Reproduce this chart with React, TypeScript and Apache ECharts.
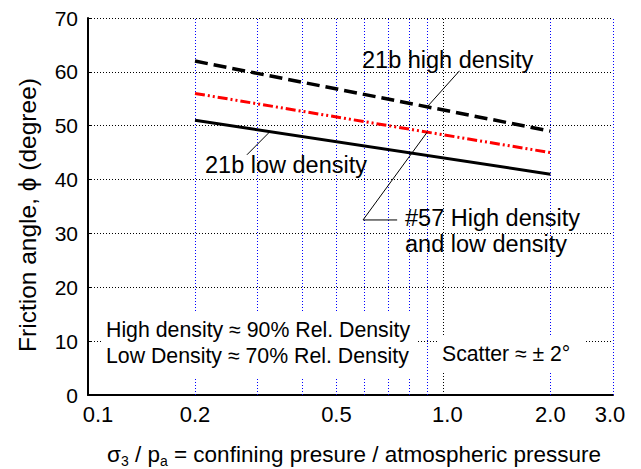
import React, { useEffect, useRef } from 'react';
import * as echarts from 'echarts';

// ---- data ----
const xEnds = [0.2, 2.0];
const high21b = [62, 49];
const mixed57 = [56, 45];
const low21b = [51, 41];

const xTickValues = [0.1, 0.2, 0.5, 1.0, 2.0, 3.0];
const xTickLabels = ['0.1', '0.2', '0.5', '1.0', '2.0', '3.0'];
const blueGridX = [0.2, 0.3, 0.4, 0.5, 0.6, 0.7, 0.8, 0.9, 2.0, 3.0];
const blackGridX = [1.0];

// leader lines (data coordinates)
const leaderHighX = [1.11, 0.9];
const leaderHighY = [60.2, 53.5];
const leaderLowX = [0.28, 0.325];
const leaderLowY = [44.6, 48.9];
const leader57X = [0.741, 0.594, 0.9];
const leader57Y = [32.5, 32.5, 48.8];

const FONT = '"Liberation Sans", Arial, Helvetica, sans-serif';

function pairs(xs: number[], ys: number[]) {
  return xs.map((x, i) => [x, ys[i]]);
}

function txt(text: string, x: number, y: number, fontSize: number, align = 'left', extra: any = {}) {
  return {
    type: 'text',
    x,
    y,
    z: 120,
    silent: true,
    ...extra,
    style: {
      text,
      fontSize,
      fontFamily: FONT,
      fill: '#000',
      align,
      verticalAlign: 'middle',
      textAlign: align,
      textVerticalAlign: 'middle',
    },
  };
}

export default function App() {
  const ref = useRef<HTMLDivElement>(null);

  useEffect(() => {
    if (!ref.current) return;
    const chart = echarts.init(ref.current, undefined, { renderer: 'svg' });

    const leaderStyle = { color: '#000', width: 1 };

    chart.setOption({
      animation: false,
      backgroundColor: '#fff',
      grid: { left: 88, right: 28, top: 18, bottom: 74, containLabel: false },
      xAxis: {
        type: 'log',
        logBase: 10,
        min: 0.1,
        max: 3.0,
        axisLine: { show: true, onZero: false, lineStyle: { color: '#000', width: 2 } },
        axisTick: { show: false },
        axisLabel: { show: false },
        splitLine: { show: false },
        minorSplitLine: { show: false },
      },
      yAxis: {
        type: 'value',
        min: 0,
        max: 70,
        interval: 10,
        axisLine: { show: true, lineStyle: { color: '#000', width: 2 } },
        axisTick: { show: true, inside: true, length: 3, lineStyle: { color: '#000', width: 1 } },
        axisLabel: { color: '#000', fontSize: 21, fontFamily: FONT, margin: 10 },
        splitLine: { show: true, lineStyle: { color: '#000', width: 1, type: [1, 2] } },
      },
      series: [
        {
          type: 'line',
          name: 'grid',
          data: [],
          silent: true,
          z: 1,
          markLine: {
            silent: true,
            symbol: ['none', 'none'],
            label: { show: false },
            animation: false,
            data: [
              ...blueGridX.map((v) => ({ xAxis: v, lineStyle: { color: '#0000ff', width: 1, type: [1, 2] } })),
              ...blackGridX.map((v) => ({ xAxis: v, lineStyle: { color: '#000', width: 1, type: [1, 2] } })),
            ],
          },
        },
        {
          type: 'line',
          name: '21b high density',
          data: pairs(xEnds, high21b),
          showSymbol: false,
          symbol: 'none',
          z: 5,
          lineStyle: { color: '#000', width: 3.5, type: [13, 6] },
        },
        {
          type: 'line',
          name: '#57',
          data: pairs(xEnds, mixed57),
          showSymbol: false,
          symbol: 'none',
          z: 5,
          lineStyle: { color: '#ff0000', width: 3, type: [10, 3, 2, 3, 2, 3] },
        },
        {
          type: 'line',
          name: '21b low density',
          data: pairs(xEnds, low21b),
          showSymbol: false,
          symbol: 'none',
          z: 5,
          lineStyle: { color: '#000', width: 3 },
        },
        {
          type: 'line',
          name: 'leader high',
          data: pairs(leaderHighX, leaderHighY),
          symbol: 'none',
          z: 6,
          lineStyle: leaderStyle,
        },
        {
          type: 'line',
          name: 'leader low',
          data: pairs(leaderLowX, leaderLowY),
          symbol: 'none',
          z: 6,
          lineStyle: leaderStyle,
        },
        {
          type: 'line',
          name: 'leader 57',
          data: pairs(leader57X, leader57Y),
          symbol: 'none',
          z: 6,
          lineStyle: leaderStyle,
        },
      ],
    });

    const tickOffsets: Record<string, number> = { '0.1': 10, '3.0': -3, '1.0': 4 };
    const tickGraphics = xTickValues.map((v, i) => {
      const px = chart.convertToPixel({ xAxisIndex: 0 }, v) as number;
      const lab = xTickLabels[i];
      return txt(lab, px + (tickOffsets[lab] || 0), 414, 22, 'center');
    });

    chart.setOption({
      graphic: [
        // white boxes behind the notes
        { type: 'rect', z: 100, silent: true, shape: { x: 103, y: 312, width: 314, height: 67 }, style: { fill: '#fff' } },
        { type: 'rect', z: 100, silent: true, shape: { x: 439, y: 337, width: 145, height: 36 }, style: { fill: '#fff' } },
        ...tickGraphics,
        txt('Friction angle, \u03d5 (degree)', 27, 215, 24.5, 'center', { rotation: Math.PI / 2 }),
        {
          type: 'text',
          x: 107,
          y: 454,
          z: 120,
          silent: true,
          style: {
            text: '{m|\u03c3}{s|3}{m| / p}{s|a}{m| = confining presure / atmospheric pressure}',
            fontFamily: FONT,
            fill: '#000',
            align: 'left',
            verticalAlign: 'middle',
            textAlign: 'left',
            textVerticalAlign: 'middle',
            rich: {
              m: { fontSize: 22.5, fontFamily: FONT, fill: '#000', color: '#000', lineHeight: 26 },
              s: { fontSize: 14, fontFamily: FONT, fill: '#000', color: '#000', lineHeight: 28, verticalAlign: 'bottom' },
            },
          },
        },
        txt('21b high density', 362, 60, 23.5),
        txt('21b low density', 205, 165, 23.5),
        txt('#57 High density', 405, 218, 23.5),
        txt('and low density', 405, 244, 23.5),
        txt('High density \u2248 90% Rel. Density', 106, 330, 21.3),
        txt('Low Density \u2248 70% Rel. Density', 106, 356, 21.3),
        txt('Scatter \u2248 \u00b1 2\u00b0', 442, 353, 21.2),
      ],
    });

    return () => chart.dispose();
  }, []);

  return <div ref={ref} style={{ width: 641, height: 469, position: 'absolute', left: 0, top: 0 }} />;
}
